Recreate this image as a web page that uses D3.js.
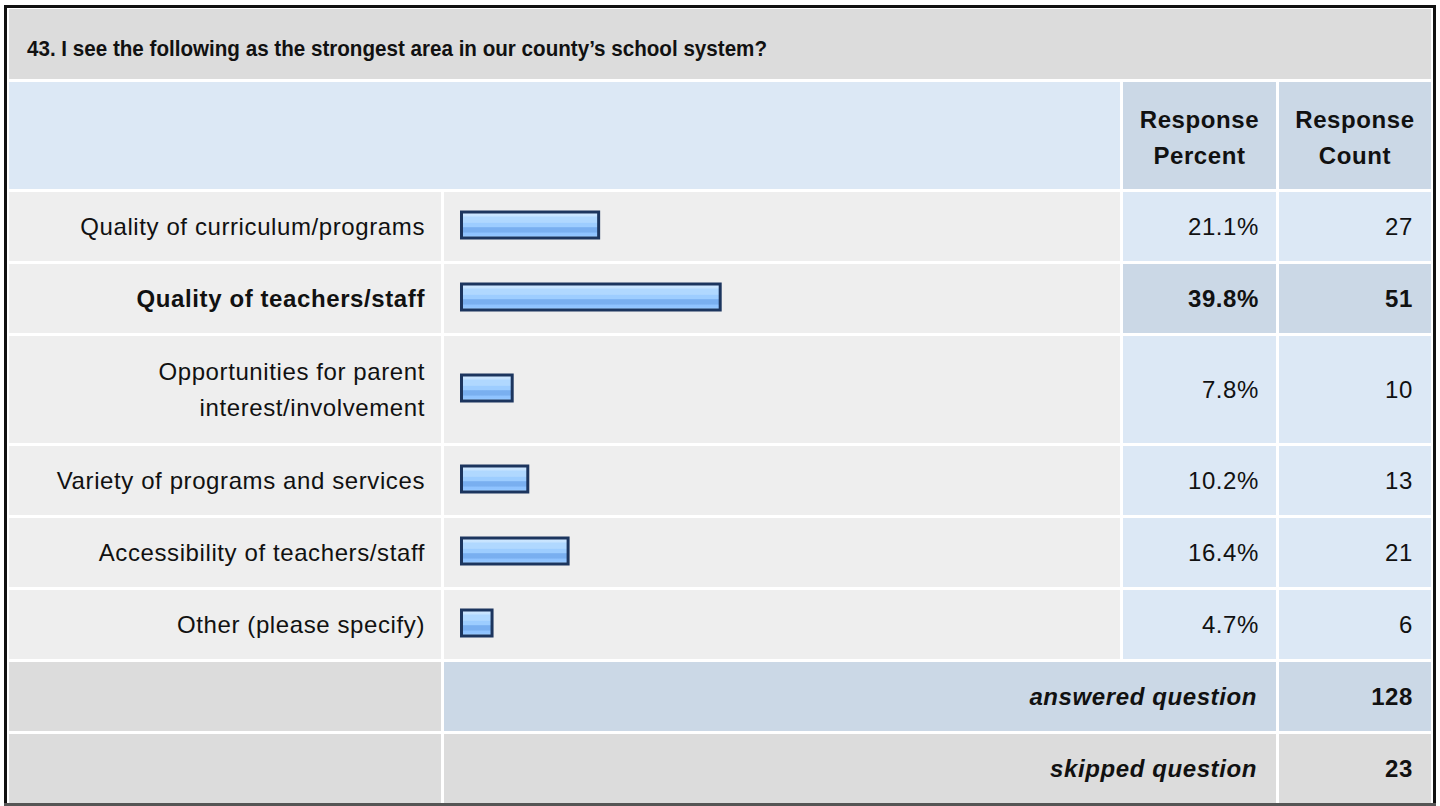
<!DOCTYPE html>
<html>
<head>
<meta charset="utf-8">
<script src="https://cdn.jsdelivr.net/npm/d3@7"></script>
<style>
  body { margin: 0; background: #fff; }
  svg text { font-family: "Liberation Sans", Arial, sans-serif; fill: #111; }
</style>
</head>
<body>
<div id="chart"></div>
<script>
const title = "43. I see the following as the strongest area in our county\u2019s school system?";
const categories = [
    ["Quality of curriculum/programs"],
    ["Quality of teachers/staff"],
    ["Opportunities for parent", "interest/involvement"],
    ["Variety of programs and services"],
    ["Accessibility of teachers/staff"],
    ["Other (please specify)"]
];
const percents = [21.1, 39.8, 7.8, 10.2, 16.4, 4.7];
const counts = [27, 51, 10, 13, 21, 6];
const highlighted = 1;
const headers = [["Response", "Percent"], ["Response", "Count"]];
const answered = 128;
const skipped = 23;

const width = 1440;
const height = 806;
const fs = 24;

const svg = d3.select("#chart").append("svg")
    .attr("width", width)
    .attr("height", height);

const defs = svg.append("defs");
const grad = defs.append("linearGradient")
    .attr("id", "barfill")
    .attr("x1", 0).attr("y1", 0).attr("x2", 0).attr("y2", 1);
[[0, "#d3eaff"], [0.15, "#c6e3ff"], [0.2, "#b0d8ff"], [0.4, "#b0d8ff"], [0.42, "#9dcdff"], [0.58, "#9dcdff"],
 [0.6, "#79aff0"], [0.78, "#79aff0"], [0.8, "#8fc3ff"], [0.9, "#8fc3ff"], [0.92, "#a2d1ff"], [1, "#a2d1ff"]]
    .forEach(s => grad.append("stop").attr("offset", s[0]).attr("stop-color", s[1]));

// columns
const colLabel = [9, 441];
const colBar = [444, 1276];
const colPct = [1123, 1276];
const colCnt = [1279, 1431];

// rows
const rowH = n => 69 + 38 * (n - 1);
let y = 192;
const rows = categories.map((c, i) => {
    const r = {label: c, pct: percents[i], count: counts[i], y: y, h: rowH(c.length), bold: i === highlighted};
    y += r.h + 3;
    return r;
});
const ansY = y;
const skipY = ansY + 72;

const x = d3.scaleLinear().domain([0, 100]).range([0, 650]);

function cell(x0, x1, y0, h, fill) {
    svg.append("rect").attr("x", x0).attr("y", y0).attr("width", x1 - x0).attr("height", h).attr("fill", fill);
}
function text(str, tx, ty, anchor, opts = {}) {
    return svg.append("text")
        .attr("x", tx).attr("y", ty)
        .attr("text-anchor", anchor)
        .attr("font-size", fs)
        .attr("letter-spacing", 0.6)
        .attr("font-weight", opts.bold ? "bold" : "normal")
        .attr("font-style", opts.italic ? "italic" : "normal")
        .text(str);
}

// outer border
svg.append("rect").attr("x", 5.5).attr("y", 6.5).attr("width", 1429).attr("height", 798)
    .attr("fill", "none").attr("stroke", "#111").attr("stroke-width", 3);
svg.append("line").attr("x1", 4).attr("x2", 1436).attr("y1", 804.5).attr("y2", 804.5)
    .attr("stroke", "#555").attr("stroke-width", 3);

// title
cell(9, 1431, 9, 70, "#dcdcdc");
text(title, 27, 55.5, "start", {bold: true})
    .attr("font-size", 22)
    .attr("letter-spacing", 0)
    .attr("textLength", 740)
    .attr("lengthAdjust", "spacingAndGlyphs");

// header
cell(9, 1120, 82, 107, "#dce8f5");
cell(colPct[0], colPct[1], 82, 107, "#cbd8e6");
cell(colCnt[0], colCnt[1], 82, 107, "#cbd8e6");
headers.forEach((h, j) => {
    const col = j === 0 ? colPct : colCnt;
    h.forEach((ln, k) => text(ln, (col[0] + col[1]) / 2, 128 + k * 36, "middle", {bold: true}));
});

// data rows
rows.forEach(r => {
    const mid = r.y + r.h / 2;
    cell(colLabel[0], colLabel[1], r.y, r.h, "#eeeeee");
    cell(colBar[0], 1120, r.y, r.h, "#eeeeee");
    const bg = r.bold ? "#cbd8e6" : "#dce8f5";
    cell(colPct[0], colPct[1], r.y, r.h, bg);
    cell(colCnt[0], colCnt[1], r.y, r.h, bg);

    const n = r.label.length;
    r.label.forEach((ln, k) => text(ln, 425, mid + 8.5 + (k - (n - 1) / 2) * 36, "end", {bold: r.bold}));

    svg.append("rect")
        .attr("x", 461.5).attr("y", mid - 14.5)
        .attr("width", x(r.pct)).attr("height", 26)
        .attr("fill", "url(#barfill)")
        .attr("stroke", "#1c355e").attr("stroke-width", 3);

    text(r.pct.toFixed(1) + "%", colPct[1] - 17, mid + 8.5, "end", {bold: r.bold});
    text(r.count, colCnt[1] - 18, mid + 8.5, "end", {bold: r.bold});
});

// answered / skipped
cell(colLabel[0], colLabel[1], ansY, 69, "#dcdcdc");
cell(colBar[0], colBar[1], ansY, 69, "#cbd8e6");
cell(colCnt[0], colCnt[1], ansY, 69, "#cbd8e6");
text("answered question", colPct[1] - 19, ansY + 34.5 + 8.5, "end", {bold: true, italic: true});
text(answered, colCnt[1] - 18, ansY + 34.5 + 8.5, "end", {bold: true});

cell(colLabel[0], colLabel[1], skipY, 69, "#dcdcdc");
cell(colBar[0], colBar[1], skipY, 69, "#dcdcdc");
cell(colCnt[0], colCnt[1], skipY, 69, "#dcdcdc");
text("skipped question", colPct[1] - 19, skipY + 34.5 + 8.5, "end", {bold: true, italic: true});
text(skipped, colCnt[1] - 18, skipY + 34.5 + 8.5, "end", {bold: true});
</script>
</body>
</html>
